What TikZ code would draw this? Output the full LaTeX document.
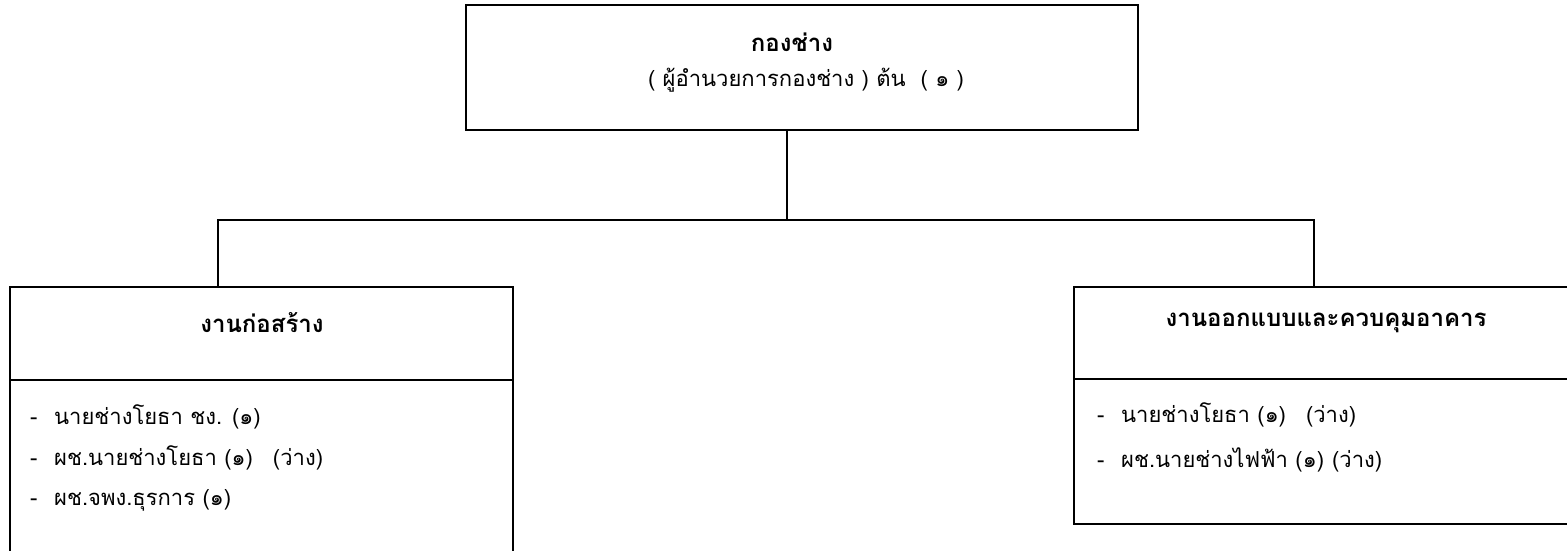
\documentclass[tikz,border=0pt]{standalone}
\usepackage{fontspec}
\newfontfamily\thaifont[Script=Thai]{Loma}
\newcommand{\itm}[1]{\makebox[24pt][l]{-}#1}
\begin{document}
\begin{tikzpicture}[x=1pt,y=-1pt,
  box/.style={draw,line width=1.5pt,rectangle,inner sep=0pt},
  lbl/.style={font=\thaifont\fontsize{22}{25}\selectfont,inner sep=0pt},
  ttl/.style={font=\thaifont\bfseries\fontsize{24}{27}\selectfont,inner sep=0pt},
  conn/.style={line width=1.5pt}]
\useasboundingbox (0,0) rectangle (1567,551);
% top box
\node[box,minimum width=672pt,minimum height=125pt] (top) at (802,67.5) {};
\node[ttl] (toptitle) at (792,42) {กองช่าง};
\node[lbl] (topsub) at (806,80) {( ผู้อำนวยการกองช่าง ) ต้น~ ( ๑ )};
% left box
\node[box,minimum width=503pt,minimum height=93pt] (lhead) at (261.5,333.5) {};
\node[box,minimum width=503pt,minimum height=200pt] (lbody) at (261.5,480) {};
\node[ttl] (ltitle) at (262,323) {งานก่อสร้าง};
\node[lbl,anchor=west] (l1) at (30,417) {\itm{นายช่างโยธา ชง. (๑)}};
\node[lbl,anchor=west] (l2) at (30,458) {\itm{ผช.นายช่างโยธา (๑)\hspace{20pt}(ว่าง)}};
\node[lbl,anchor=west] (l3) at (30,500) {\itm{ผช.จพง.ธุรการ (๑)}};
% right box
\node[box,minimum width=506pt,minimum height=92pt] (rhead) at (1327,333) {};
\node[box,minimum width=506pt,minimum height=145pt] (rbody) at (1327,451.5) {};
\node[ttl] (rtitle) at (1326,323) {งานออกแบบและควบคุมอาคาร};
\node[lbl,anchor=west] (r1) at (1097,415) {\itm{นายช่างโยธา (๑)\hspace{20pt}(ว่าง)}};
\node[lbl,anchor=west] (r2) at (1097,460) {\itm{ผช.นายช่างไฟฟ้า (๑)\hspace{8pt}(ว่าง)}};
% connectors
\coordinate (bus) at (787,220);
\coordinate (busL) at (218,220);
\coordinate (busR) at (1314,220);
\draw[conn] (bus |- top.south) -- (bus);
\draw[conn] (busL |- lhead.north) -- (busL) -- (busR) -- (busR |- rhead.north);
\end{tikzpicture}
\end{document}
